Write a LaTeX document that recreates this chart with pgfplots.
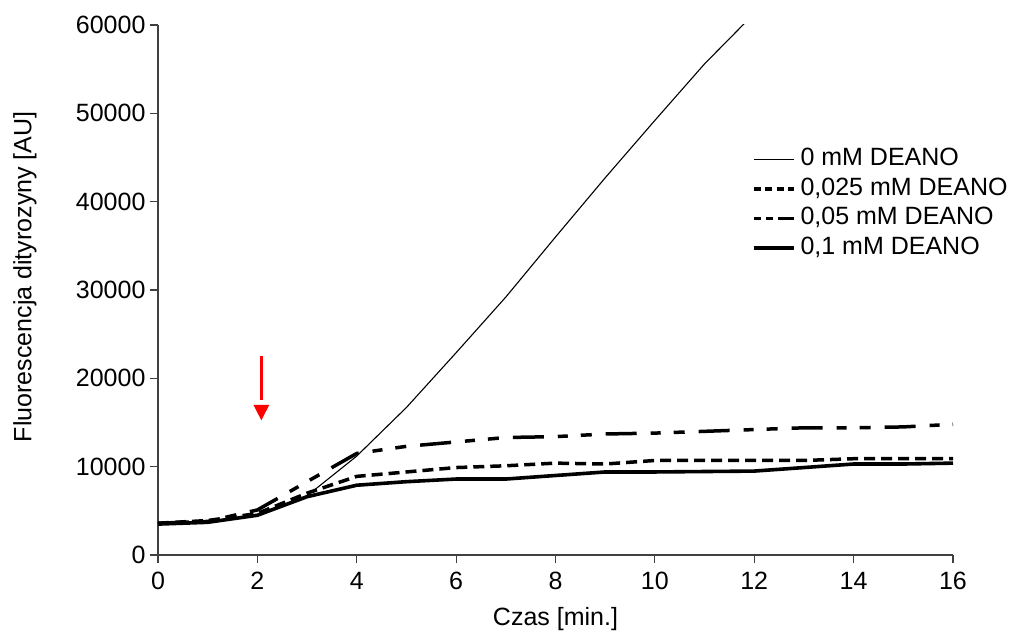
\documentclass[border=0pt]{standalone}
\usepackage{pgfplots}
\pgfplotsset{compat=1.18}
\usepackage{pgfplotstable}
\usepackage{fontspec}
\setmainfont{Liberation Sans}

\pgfplotstableread{
x y
0 3600
1 3700
2 4500
3 6700
4 11200
5 16700
6 22900
7 29200
8 36000
9 42700
10 49200
11 55600
12 61300
}\zero

\pgfplotstableread{
x y
0 3600
1 3900
2 4700
3 7000
4 8900
5 9400
6 9900
7 10100
8 10400
9 10300
10 10700
11 10700
12 10700
13 10700
14 10900
15 10900
16 10900
}\tfive

\pgfplotstableread{
x y
0 3600
1 3800
2 5100
3 8300
4 11500
5 12300
6 12800
7 13300
8 13400
9 13700
10 13800
11 14000
12 14200
13 14400
14 14400
15 14500
16 14800
}\fifty

\pgfplotstableread{
x y
0 3500
1 3700
2 4500
3 6600
4 7900
5 8300
6 8600
7 8600
8 9000
9 9400
10 9400
11 9450
12 9500
13 9900
14 10300
15 10300
16 10400
}\hund

\begin{document}
\begin{tikzpicture}
\useasboundingbox (-158pt,-80pt) rectangle (855pt,555pt);
\begin{axis}[
  scale only axis,
  width=795pt, height=530pt,
  at={(0pt,0pt)}, anchor=south west,
  xmin=0, xmax=16, ymin=0, ymax=60000,
  xtick={0,2,...,16},
  ytick={0,10000,...,60000},
  scaled y ticks=false,
  /pgf/number format/1000 sep={},
  /pgf/number format/assume math mode=true,
  axis x line*=bottom, axis y line*=left,
  axis line style={black!75, line width=1.3pt, -},
  tick align=outside,
  major tick length=8pt,
  tick style={black!75, line width=1.2pt},
  ticklabel style={font=\fontsize{25}{30}\selectfont},
  yticklabel style={xshift=-1pt},
  xticklabel style={yshift=-6pt},
  label style={font=\fontsize{25}{30}\selectfont},
  xlabel={Czas [min.]},
  ylabel={Fluorescencja dityrozyny [AU]},
  xlabel style={at={(rel axis cs:0.5,0)}, anchor=center, yshift=-64pt},
  ylabel style={at={(rel axis cs:0,0.525)}, anchor=center, yshift=133pt},
  clip=true,
  legend cell align=left,
  legend style={draw=none, fill=none, at={(axis cs:11.95,46100)}, anchor=north west,
    inner sep=0pt, row sep=6.5pt,
    font=\fontsize{25}{30}\selectfont,
    nodes={inner sep=0pt, text height=18pt, text depth=5pt},
    /tikz/every odd column/.style={column sep=5pt}},
]
\addplot[black, line width=1.1pt,
  legend image code/.code={\draw[black, line width=1.1pt] (0pt,0pt) -- (40pt,0pt);}]
  table {\zero};
\addlegendentry{0 mM DEANO}
\addplot[black, line width=3.5pt, dash pattern=on 11pt off 6pt,
  legend image code/.code={\draw[black, line width=3.5pt, dash pattern=on 7pt off 4.5pt] (0pt,0pt) -- (40pt,0pt);}]
  table {\tfive};
\addlegendentry{0,025 mM DEANO}
\addplot[black, line width=3.5pt, dash pattern=on 31pt off 14pt on 10pt off 13pt on 11pt off 14pt,
  legend image code/.code={\draw[black, line width=3.5pt, dash pattern=on 7pt off 5pt on 7pt off 5pt on 16pt off 0pt] (0pt,0pt) -- (40pt,0pt);}]
  table {\fifty};
\addlegendentry{0,05 mM DEANO}
\addplot[black, line width=3.6pt,
  legend image code/.code={\draw[black, line width=3.6pt] (0pt,0pt) -- (40pt,0pt);}]
  table {\hund};
\addlegendentry{0,1 mM DEANO}
\draw[red, line width=2.4pt] (axis cs:2.08,22500) -- (axis cs:2.08,17500);
\fill[red] (axis cs:1.92,17000) -- (axis cs:2.24,17000) -- (axis cs:2.08,15250) -- cycle;
\end{axis}
\end{tikzpicture}
\end{document}
